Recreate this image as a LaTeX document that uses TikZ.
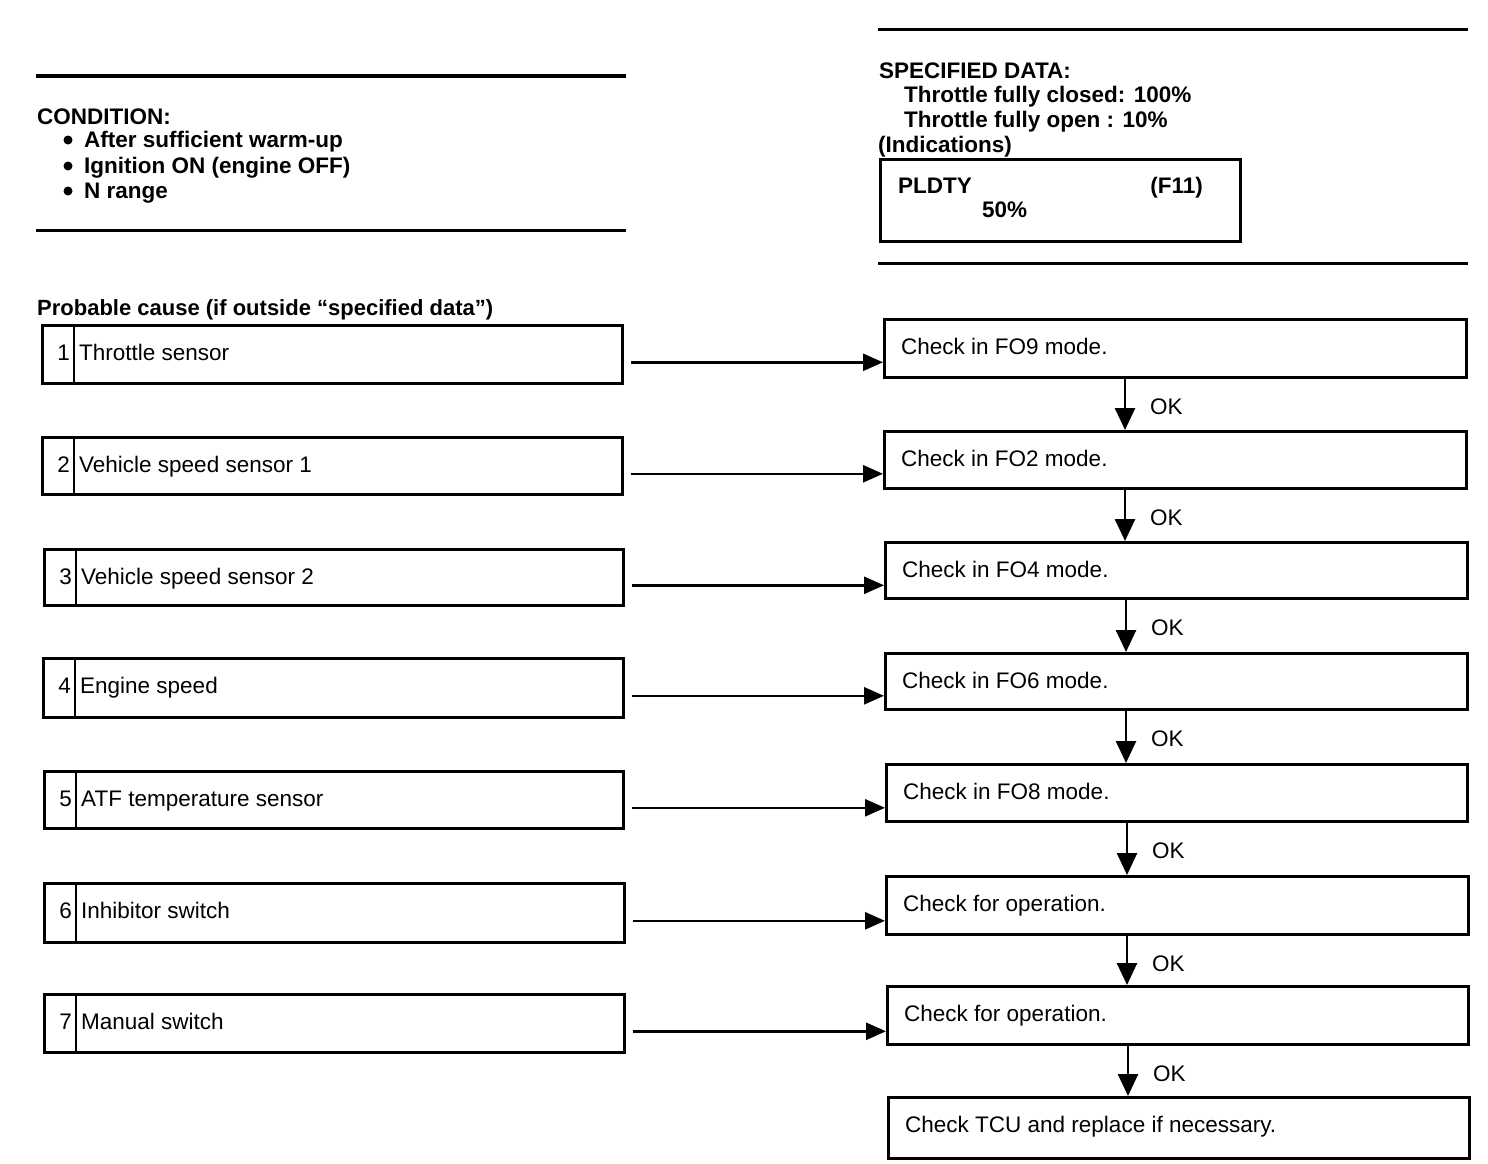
\documentclass[tikz,border=0pt]{standalone}
\usepackage{fontspec}
\setmainfont{Liberation Sans}
\usetikzlibrary{arrows.meta,calc}
\begin{document}
\begin{tikzpicture}[x=1pt,y=-1pt,
  rule/.style={line width=3pt},
  box/.style={draw,line width=2.6pt,rectangle,anchor=north west,inner sep=0pt},
  lab/.style={anchor=base west,inner sep=0pt,font=\fontsize{22.5}{26}\selectfont},
  head/.style={anchor=base west,inner sep=0pt,font=\bfseries\fontsize{22.5}{26}\selectfont},
  dot/.style={circle,fill,inner sep=0pt,minimum size=9pt},
  harrow/.style={line width=2.6pt,-{Triangle[length=20pt,width=17pt]}},
  varrow/.style={line width=2.6pt,-{Triangle[length=22pt,width=20pt]}},
]
\useasboundingbox (0,0) rectangle (1488,1164);

% ---- condition block
\draw[rule] (36,76) -- (626,76);
\node[head] (cond) at (37,124) {CONDITION:};
\node[head] (b1) at (84,147) {After sufficient warm-up};
\node[head] (b2) at (84,173) {Ignition ON (engine OFF)};
\node[head] (b3) at (84,198) {N range};
\node[dot] (o1) at (68,140) {};
\node[dot] (o2) at (68,166) {};
\node[dot] (o3) at (68,191) {};
\draw[rule] (36,230) -- (626,230);

% ---- specified data block
\draw[rule] (878,30) -- (1468,30);
\node[head] (spec) at (879,78) {SPECIFIED DATA:};
\node[head] (sp1) at (904,102) {Throttle fully closed: 100\%};
\node[head] (sp2) at (904,127) {Throttle fully open : 10\%};
\node[head] (ind) at (878,152) {(Indications)};
\node[box,minimum width=360pt,minimum height=82pt] (pl) at (879,158) {};
\node[head] (pld) at (898,193) {PLDTY};
\node[head,anchor=base east] (f11) at (1203,193) {(F11)};
\node[head] (p50) at (982,217) {50\%};
\draw[rule] (878,263) -- (1468,263);

\node[head,font=\bfseries\fontsize{22}{26}\selectfont] (prob) at (37,315) {Probable cause (if outside “specified data”)};

% ---- right check boxes
\foreach \i/\x/\y/\xr/\yb/\t in {
  1/883/318/1465/376/Check in FO9 mode.,
  2/883/430/1465/487/Check in FO2 mode.,
  3/884/541/1466/597/Check in FO4 mode.,
  4/884/652/1466/708/Check in FO6 mode.,
  5/885/763/1466/820/Check in FO8 mode.,
  6/885/875/1467/933/Check for operation.,
  7/886/985/1467/1043/Check for operation.,
  8/887/1096/1468/1157/Check TCU and replace if necessary.}{
  \node[box,minimum width={(\xr-\x)*1pt},minimum height={(\yb-\y)*1pt}] (r\i) at (\x,\y) {};
  \node[lab] (rt\i) at ($(r\i.north west)+(18,36)$) {\t};
}

% ---- vertical OK arrows
\foreach \i/\j in {1/2,2/3,3/4,4/5,5/6,6/7,7/8}{
  \coordinate (d\i) at ($(r\i.south west)+(242,0)$);
  \draw[varrow] (d\i) -- (d\i |- r\j.north);
  \node[lab] (ok\i) at ($(d\i)+(25,36)$) {OK};
}

% ---- left cause boxes
\foreach \i/\x/\y/\xr/\yb/\t in {
  1/41/324/621/382/Throttle sensor,
  2/41/436/621/493/Vehicle speed sensor 1,
  3/43/548/622/604/Vehicle speed sensor 2,
  4/42/657/622/716/Engine speed,
  5/43/770/622/827/ATF temperature sensor,
  6/43/882/623/941/Inhibitor switch,
  7/43/993/623/1051/Manual switch}{
  \node[box,minimum width={(\xr-\x)*1pt},minimum height={(\yb-\y)*1pt}] (c\i) at (\x,\y) {};
  \draw[line width=2pt] ($(c\i.north west)+(33,0)$) -- ($(c\i.south west)+(33,0)$);
  \node[lab,anchor=base east] (n\i) at ($(c\i.north west)+(29,36)$) {\i};
  \node[lab] (t\i) at ($(c\i.north west)+(38,36)$) {\t};
  \coordinate (s\i) at ($(c\i.east)+(7,8)$);
  \draw[harrow] (s\i) -- (s\i -| r\i.west);
}
\end{tikzpicture}
\end{document}
